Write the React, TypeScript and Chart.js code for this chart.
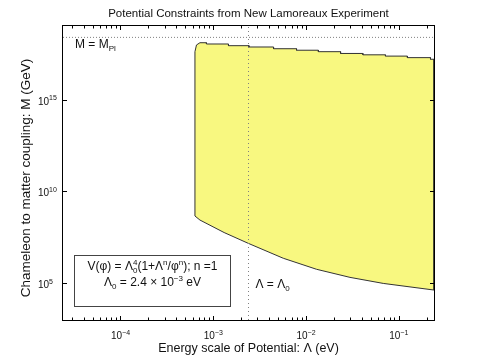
import React, { useEffect, useRef } from 'react';
import { Chart, registerables } from 'chart.js';

Chart.register(...registerables);

// ---- axis ranges and ticks ----
const xRange = [2.4e-5, 0.24];
const yRange = [1e3, 1e19];
const xMajorTicks = [1e-4, 1e-3, 1e-2, 1e-1];
const xTickExponents = ['\u22124', '\u22123', '\u22122', '\u22121'];
const yMajorTicks = [1e5, 1e10, 1e15];
const yTickExponents = ['5', '10', '15'];

// ---- reference lines ----
const lambda0 = 2.4e-3;
const planckMass = 2.4e18;

// ---- allowed region: left rise of upper boundary ----
const topRiseLambda = [6.35e-4, 6.6e-4, 7.19e-4];
const topRiseM = [4.0e17, 9.3e17, 1.23e18];
// ---- upper boundary steps (level i ends at topStepLambda[i]) ----
const topStepLambda = [8.45e-4, 1.46e-3, 2.43e-3, 4.47e-3, 7.91e-3, 1.36e-2, 2.36e-2, 4.11e-2, 7.19e-2, 0.124, 0.22, 0.24];
const topStepM = [1.23e18, 1.05e18, 8.5e17, 7.2e17, 5.8e17, 4.8e17, 4.0e17, 3.2e17, 2.7e17, 2.3e17, 1.9e17, 1.55e17];
// ---- lower boundary (left to right) ----
const bottomLambda = [6.35e-4, 7.19e-4, 1.31e-3, 2.39e-3, 5.69e-3, 1.3e-2, 2.98e-2, 6.81e-2, 0.24];
const bottomM = [4.57e8, 2.75e8, 5.75e7, 1.48e7, 2.29e6, 5.75e5, 2.09e5, 9.8e4, 4.27e4];

const FONT = '"Liberation Sans", Arial, Helvetica, sans-serif';

type Seg = { t: string; k?: 'sup' | 'sub'; t2?: string };

function richWidth(ctx: CanvasRenderingContext2D, segs: Seg[], size: number, ssize: number) {
  let w = 0;
  for (const s of segs) {
    if (!s.k) {
      ctx.font = `${size}px ${FONT}`;
      w += ctx.measureText(s.t).width;
    } else {
      ctx.font = `${ssize}px ${FONT}`;
      w += Math.max(ctx.measureText(s.t).width, s.t2 ? ctx.measureText(s.t2).width : 0);
    }
  }
  return w;
}

function drawRich(
  ctx: CanvasRenderingContext2D,
  segs: Seg[],
  x: number,
  y: number,
  size: number,
  ssize: number,
  align: 'left' | 'center' | 'right',
) {
  const w = richWidth(ctx, segs, size, ssize);
  let cx = align === 'left' ? x : align === 'center' ? x - w / 2 : x - w;
  ctx.textAlign = 'left';
  ctx.textBaseline = 'alphabetic';
  for (const s of segs) {
    if (!s.k) {
      ctx.font = `${size}px ${FONT}`;
      ctx.fillText(s.t, cx, y);
      cx += ctx.measureText(s.t).width;
    } else {
      ctx.font = `${ssize}px ${FONT}`;
      const w1 = ctx.measureText(s.t).width;
      const w2 = s.t2 ? ctx.measureText(s.t2).width : 0;
      if (s.k === 'sup') {
        ctx.fillText(s.t, cx, y - size * 0.42);
        if (s.t2) ctx.fillText(s.t2, cx, y + size * 0.28);
      } else {
        ctx.fillText(s.t, cx, y + size * 0.28);
      }
      cx += Math.max(w1, w2);
    }
  }
}

function buildRegion() {
  const pts: { x: number; y: number }[] = [];
  pts.push({ x: bottomLambda[0], y: bottomM[0] });
  for (let i = 0; i < topRiseLambda.length; i++) pts.push({ x: topRiseLambda[i], y: topRiseM[i] });
  for (let i = 0; i < topStepLambda.length; i++) {
    pts.push({ x: topStepLambda[i], y: topStepM[i] });
    if (i + 1 < topStepM.length) pts.push({ x: topStepLambda[i], y: topStepM[i + 1] });
  }
  for (let i = bottomLambda.length - 1; i >= 0; i--) pts.push({ x: bottomLambda[i], y: bottomM[i] });
  return pts;
}

const overlayPlugin = {
  id: 'overlay',
  afterDraw(chart: any) {
    const ctx: CanvasRenderingContext2D = chart.ctx;
    const xs = chart.scales.x;
    const ys = chart.scales.y;
    const { left, right, top, bottom } = chart.chartArea;
    ctx.save();
    ctx.fillStyle = '#111';
    ctx.strokeStyle = '#000';
    ctx.lineWidth = 1;

    // ticks (inside, all four sides)
    ctx.beginPath();
    const decMin = Math.floor(Math.log10(xRange[0]));
    const decMax = Math.ceil(Math.log10(xRange[1]));
    for (let d = decMin; d <= decMax; d++) {
      for (let m = 1; m <= 9; m++) {
        const v = m * Math.pow(10, d);
        if (v < xRange[0] || v > xRange[1]) continue;
        const px = Math.round(xs.getPixelForValue(v)) + 0.5;
        const len = m === 1 ? 4 : 2.5;
        ctx.moveTo(px, bottom);
        ctx.lineTo(px, bottom - len);
        ctx.moveTo(px, top);
        ctx.lineTo(px, top + len);
      }
    }
    for (const v of yMajorTicks) {
      const py = Math.round(ys.getPixelForValue(v)) + 0.5;
      ctx.moveTo(left, py);
      ctx.lineTo(left + 4, py);
      ctx.moveTo(right, py);
      ctx.lineTo(right - 4, py);
    }
    ctx.stroke();

    // frame
    ctx.strokeRect(left - 0.5, top - 0.5, right - left + 1, bottom - top + 1);

    // tick labels
    xMajorTicks.forEach((v, i) => {
      const px = xs.getPixelForValue(v);
      drawRich(ctx, [{ t: '10' }, { t: xTickExponents[i], k: 'sup' }], px, bottom + 19, 10, 7, 'center');
    });
    yMajorTicks.forEach((v, i) => {
      const py = ys.getPixelForValue(v);
      drawRich(ctx, [{ t: '10' }, { t: yTickExponents[i], k: 'sup' }], 38, py + 5, 10, 7, 'left');
    });

    // title
    ctx.textAlign = 'center';
    ctx.textBaseline = 'alphabetic';
    ctx.font = `11.5px ${FONT}`;
    ctx.fillText('Potential Constraints from New Lamoreaux Experiment', (left + right) / 2, 17);
    // x label
    ctx.font = `12.5px ${FONT}`;
    ctx.fillText('Energy scale of Potential: \u039b (eV)', (left + right) / 2, 352);
    // y label
    ctx.save();
    ctx.font = `13.5px ${FONT}`;
    ctx.translate(30, 178);
    ctx.rotate(-Math.PI / 2);
    ctx.fillText('Chameleon to matter coupling: M (GeV)', 0, 0);
    ctx.restore();

    // annotations
    drawRich(ctx, [{ t: 'M = M' }, { t: 'Pl', k: 'sub' }], left + 12, top + 22, 12, 8, 'left');
    const lx = xs.getPixelForValue(lambda0);
    drawRich(ctx, [{ t: '\u039b = \u039b' }, { t: '0', k: 'sub' }], lx + 7, 288, 12, 8, 'left');

    // formula box
    const bx = 74.5, by = 255.5, bw = 156, bh = 51;
    ctx.fillStyle = '#fff';
    ctx.fillRect(bx, by, bw, bh);
    ctx.strokeStyle = '#444';
    ctx.strokeRect(bx, by, bw, bh);
    ctx.fillStyle = '#111';
    const cx = bx + bw / 2;
    drawRich(
      ctx,
      [
        { t: 'V(\u03c6) = \u039b' },
        { t: '4', k: 'sup', t2: '0' },
        { t: '(1+\u039b' },
        { t: 'n', k: 'sup' },
        { t: '/\u03c6' },
        { t: 'n', k: 'sup' },
        { t: '); n =1' },
      ],
      cx,
      270,
      12,
      8,
      'center',
    );
    drawRich(
      ctx,
      [
        { t: '\u039b' },
        { t: '0', k: 'sub' },
        { t: ' = 2.4 \u00d7 10' },
        { t: '\u22123', k: 'sup' },
        { t: ' eV' },
      ],
      cx,
      286,
      12,
      8,
      'center',
    );
    ctx.restore();
  },
};

export default function App() {
  const ref = useRef<HTMLCanvasElement | null>(null);
  useEffect(() => {
    document.body.style.margin = '0';
    const canvas = ref.current!;
    const chart = new Chart(canvas, {
      type: 'line',
      data: {
        datasets: [
          {
            data: [
              { x: lambda0, y: yRange[0] },
              { x: lambda0, y: yRange[1] },
            ],
            borderColor: '#808080',
            borderWidth: 1,
            borderDash: [1, 3],
            pointRadius: 0,
            fill: false,
          },
          {
            data: [
              { x: xRange[0], y: planckMass },
              { x: xRange[1], y: planckMass },
            ],
            borderColor: '#808080',
            borderWidth: 1,
            borderDash: [1, 2],
            pointRadius: 0,
            fill: false,
          },
          {
            data: buildRegion(),
            borderColor: '#333',
            borderWidth: 1,
            backgroundColor: '#f8f880',
            pointRadius: 0,
            tension: 0,
            fill: 'shape',
          },
        ],
      },
      options: {
        animation: false,
        responsive: false,
        events: [],
        layout: { padding: { left: 0, right: 46, top: 26, bottom: 0 } },
        plugins: { legend: { display: false }, tooltip: { enabled: false }, title: { display: false } },
        scales: {
          x: {
            type: 'logarithmic',
            min: xRange[0],
            max: xRange[1],
            ticks: { display: false },
            grid: { display: false },
            border: { display: false },
            afterFit: (s: any) => {
              s.height = 41;
            },
          },
          y: {
            type: 'logarithmic',
            min: yRange[0],
            max: yRange[1],
            ticks: { display: false },
            grid: { display: false },
            border: { display: false },
            afterFit: (s: any) => {
              s.width = 63;
            },
          },
        },
      },
      plugins: [overlayPlugin],
    });
    return () => chart.destroy();
  }, []);
  return (
    <div style={{ width: 480, height: 361 }}>
      <canvas ref={ref} width={480} height={361} style={{ display: 'block' }} />
    </div>
  );
}
